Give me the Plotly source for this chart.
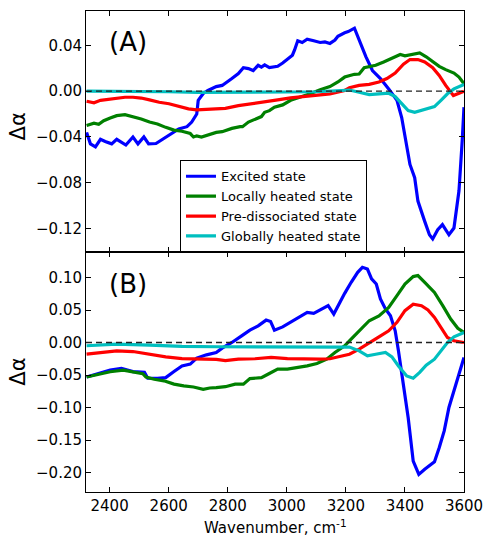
import plotly.graph_objects as go
from plotly.subplots import make_subplots

# ---------- Panel A data ----------
a_exc_w = [2322,2335,2352,2369,2385,2407,2424,2435,2455,2479,2496,2516,2532,2557,2579,2606,2634,2662,2678,2695,2700,2717,2733,2761,2781,2814,2836,2853,2870,2886,2903,2914,2925,2941,2969,2986,3008,3019,3026,3037,3052,3069,3091,3113,3129,3146,3163,3173,3196,3208,3229,3250,3268,3290,3317,3345,3373,3389,3406,3417,3433,3444,3467,3483,3494,3511,3527,3549,3566,3583,3594,3600]
a_exc_v = [-0.036,-0.046,-0.0486,-0.042,-0.044,-0.046,-0.042,-0.044,-0.047,-0.040,-0.046,-0.040,-0.046,-0.0457,-0.042,-0.038,-0.033,-0.031,-0.027,-0.020,-0.008,-0.002,0.0006,0.004,0.005,0.011,0.0153,0.0205,0.0197,0.018,0.0226,0.021,0.023,0.0205,0.0217,0.0246,0.029,0.0314,0.0358,0.044,0.0425,0.0454,0.044,0.0425,0.043,0.0417,0.0446,0.048,0.051,0.052,0.055,0.0417,0.030,0.018,0.011,0.002,-0.008,-0.023,-0.046,-0.064,-0.0756,-0.096,-0.1137,-0.1254,-0.129,-0.121,-0.1166,-0.1254,-0.1195,-0.087,-0.043,-0.014]

a_loc_w = [2322,2347,2363,2380,2402,2424,2452,2479,2507,2535,2562,2590,2618,2645,2673,2684,2695,2711,2733,2761,2781,2814,2842,2850,2870,2892,2914,2925,2941,2958,2986,3013,3046,3079,3113,3146,3173,3196,3229,3245,3262,3279,3301,3328,3356,3384,3400,3422,3450,3472,3494,3516,3538,3566,3583,3600]
a_loc_v = [-0.030,-0.028,-0.029,-0.0258,-0.0234,-0.0214,-0.0205,-0.0222,-0.0243,-0.027,-0.0287,-0.0316,-0.034,-0.035,-0.037,-0.040,-0.039,-0.040,-0.038,-0.036,-0.0354,-0.0325,-0.031,-0.031,-0.027,-0.0243,-0.0222,-0.0185,-0.017,-0.014,-0.012,-0.008,-0.0053,-0.0023,0.0012,0.004,0.008,0.0123,0.0147,0.015,0.0205,0.0217,0.0226,0.0255,0.029,0.032,0.0308,0.032,0.0334,0.030,0.0255,0.0217,0.0188,0.0158,0.0123,0.0065]

a_pre_w = [2322,2347,2369,2396,2424,2452,2479,2507,2535,2568,2601,2634,2667,2695,2728,2761,2792,2836,2881,2925,2969,3013,3057,3102,3146,3196,3212,3245,3279,3312,3339,3367,3395,3417,3444,3467,3494,3516,3538,3564,3579,3600]
a_pre_v = [-0.0088,-0.0102,-0.008,-0.007,-0.0058,-0.0053,-0.0053,-0.006,-0.0076,-0.0097,-0.011,-0.013,-0.0155,-0.0164,-0.016,-0.0155,-0.015,-0.0126,-0.011,-0.0097,-0.0076,-0.0058,-0.0047,-0.0038,-0.0023,0.0006,0.003,0.005,0.0059,0.008,0.011,0.0158,0.0235,0.0276,0.0276,0.0255,0.0205,0.0138,0.005,-0.0038,-0.0023,0.0]

a_glo_w = [2322,2400,2500,2600,2700,2800,2900,3000,3100,3185,3212,3245,3279,3312,3345,3367,3389,3411,3433,3456,3478,3500,3522,3544,3566,3600]
a_glo_v = [0.0,0.0,0.0,-0.0005,-0.001,-0.001,-0.001,-0.0008,-0.0005,0.0006,0.001,-0.001,-0.003,-0.0023,-0.0018,-0.0047,-0.011,-0.017,-0.0185,-0.017,-0.015,-0.0135,-0.008,-0.0023,0.002,0.0059]

# ---------- Panel B data ----------
b_exc_w = [2322,2357,2402,2440,2479,2518,2529,2562,2590,2618,2645,2673,2695,2728,2761,2781,2814,2847,2875,2903,2930,2945,2958,2986,3013,3041,3069,3091,3118,3140,3159,3179,3196,3218,3240,3256,3273,3287,3303,3317,3334,3351,3367,3378,3395,3411,3428,3447,3467,3500,3516,3533,3549,3566,3583,3600]
b_exc_v = [-0.053,-0.048,-0.0426,-0.040,-0.0447,-0.046,-0.055,-0.055,-0.054,-0.0447,-0.036,-0.0333,-0.024,-0.019,-0.0154,-0.0087,0.0,0.0103,0.019,0.0257,0.0345,0.0324,0.019,0.024,0.031,0.0386,0.0463,0.0448,0.0515,0.0566,0.0438,0.0617,0.0756,0.0926,0.108,0.1157,0.113,0.098,0.090,0.067,0.0515,0.041,0.018,-0.0128,-0.064,-0.1157,-0.1825,-0.203,-0.195,-0.1836,-0.162,-0.136,-0.100,-0.0745,-0.0488,-0.023]

b_loc_w = [2322,2357,2402,2446,2479,2512,2523,2551,2584,2618,2651,2684,2717,2739,2761,2792,2825,2853,2875,2914,2936,2969,3002,3035,3069,3102,3135,3163,3196,3212,3245,3279,3312,3345,3373,3400,3428,3444,3467,3500,3528,3555,3579,3600]
b_loc_v = [-0.053,-0.050,-0.045,-0.0426,-0.0447,-0.048,-0.053,-0.0566,-0.059,-0.064,-0.0668,-0.0684,-0.072,-0.070,-0.0694,-0.068,-0.064,-0.064,-0.0555,-0.054,-0.0488,-0.041,-0.041,-0.0386,-0.036,-0.0324,-0.0257,-0.0154,-0.005,0.0026,0.018,0.0335,0.041,0.054,0.072,0.090,0.1014,0.103,0.0926,0.077,0.0566,0.036,0.022,0.0154]

b_pre_w = [2322,2369,2424,2479,2535,2590,2645,2700,2761,2792,2836,2892,2947,3002,3057,3113,3146,3196,3212,3245,3279,3312,3345,3373,3400,3428,3456,3478,3500,3522,3544,3566,3600]
b_pre_v = [-0.018,-0.0154,-0.0128,-0.0139,-0.018,-0.022,-0.0247,-0.0257,-0.026,-0.028,-0.0257,-0.025,-0.023,-0.0247,-0.0257,-0.0257,-0.025,-0.0205,-0.018,-0.0102,0.0,0.0088,0.018,0.031,0.049,0.059,0.0566,0.050,0.0386,0.022,0.0077,0.0026,0.0]

b_glo_w = [2322,2424,2535,2645,2761,2900,3050,3185,3212,3245,3273,3301,3334,3356,3378,3406,3428,3450,3472,3500,3522,3544,3566,3600]
b_glo_v = [-0.005,-0.0026,-0.004,-0.006,-0.0065,-0.0066,-0.0066,-0.0066,-0.007,-0.0128,-0.0205,-0.018,-0.0154,-0.022,-0.036,-0.0514,-0.055,-0.046,-0.035,-0.0257,-0.0128,0.0,0.0088,0.0154]

names = ["Excited state", "Locally heated state", "Pre-dissociated state", "Globally heated state"]
colors = ["#0000ff", "#008000", "#ff0000", "#00bfbf"]

x_ticks = [2400, 2600, 2800, 3000, 3200, 3400, 3600]
x_range = [2320, 3600]
a_range = [-0.14, 0.07]
a_ticks = [-0.12, -0.08, -0.04, 0.00, 0.04]
b_range = [-0.23, 0.14]
b_ticks = [-0.20, -0.15, -0.10, -0.05, 0.00, 0.05, 0.10]

FONT = "DejaVu Sans"

fig = make_subplots(rows=2, cols=1, shared_xaxes=True, vertical_spacing=0)

panel_a = [(a_exc_w, a_exc_v), (a_loc_w, a_loc_v), (a_pre_w, a_pre_v), (a_glo_w, a_glo_v)]
panel_b = [(b_exc_w, b_exc_v), (b_loc_w, b_loc_v), (b_pre_w, b_pre_v), (b_glo_w, b_glo_v)]

for i, (w, v) in enumerate(panel_a):
    fig.add_trace(go.Scatter(x=w, y=v, mode="lines", name=names[i],
                             line=dict(color=colors[i], width=3.2),
                             showlegend=True), row=1, col=1)
for i, (w, v) in enumerate(panel_b):
    fig.add_trace(go.Scatter(x=w, y=v, mode="lines", name=names[i],
                             line=dict(color=colors[i], width=3.2),
                             showlegend=False), row=2, col=1)

# zero dashed lines
for r in (1, 2):
    fig.add_hline(y=0, line=dict(color="#222222", width=1.3, dash="6px,4px"),
                  layer="above", row=r, col=1)

axis_common = dict(showgrid=False, zeroline=False, showline=True, linecolor="black",
                   linewidth=1, mirror="ticks", ticks="inside", ticklen=5,
                   tickcolor="black", tickwidth=1,
                   tickfont=dict(family=FONT, size=15, color="black"))

fig.update_xaxes(range=x_range, tickvals=x_ticks, **axis_common)
fig.update_xaxes(showticklabels=False, row=1, col=1)
fig.update_yaxes(range=a_range, tickvals=a_ticks, tickformat=".2f", row=1, col=1, **axis_common)
fig.update_yaxes(range=b_range, tickvals=b_ticks, tickformat=".2f", row=2, col=1, **axis_common)

fig.update_layout(
    width=493, height=536,
    margin=dict(l=86, r=20, t=10, b=44),
    paper_bgcolor="white", plot_bgcolor="white",
    font=dict(family=FONT, size=15, color="black"),
    legend=dict(x=0.496, y=0.594, xanchor="center", yanchor="middle",
                bgcolor="white", bordercolor="black", borderwidth=1,
                font=dict(family=FONT, size=13, color="black"),
                tracegroupgap=0),
    annotations=[
        dict(text="(A)", xref="x domain", yref="y domain", x=0.111, y=0.87,
             xanchor="center", yanchor="middle", showarrow=False,
             font=dict(family=FONT, size=26, color="black")),
        dict(text="(B)", xref="x2 domain", yref="y2 domain", x=0.111, y=0.863,
             xanchor="center", yanchor="middle", showarrow=False,
             font=dict(family=FONT, size=26, color="black")),
        dict(text="Δα", xref="paper", yref="y domain", x=-0.180, y=0.52,
             xanchor="center", yanchor="middle", showarrow=False, textangle=-90,
             font=dict(family=FONT, size=21, color="black")),
        dict(text="Δα", xref="paper", yref="y2 domain", x=-0.180, y=0.5,
             xanchor="center", yanchor="middle", showarrow=False, textangle=-90,
             font=dict(family=FONT, size=21, color="black")),
        dict(text="Wavenumber, cm<sup>-1</sup>", xref="paper", yref="paper",
             x=0.5, y=-0.073, xanchor="center", yanchor="middle", showarrow=False,
             font=dict(family=FONT, size=15, color="black")),
    ],
)

fig.write_html("out.html")
